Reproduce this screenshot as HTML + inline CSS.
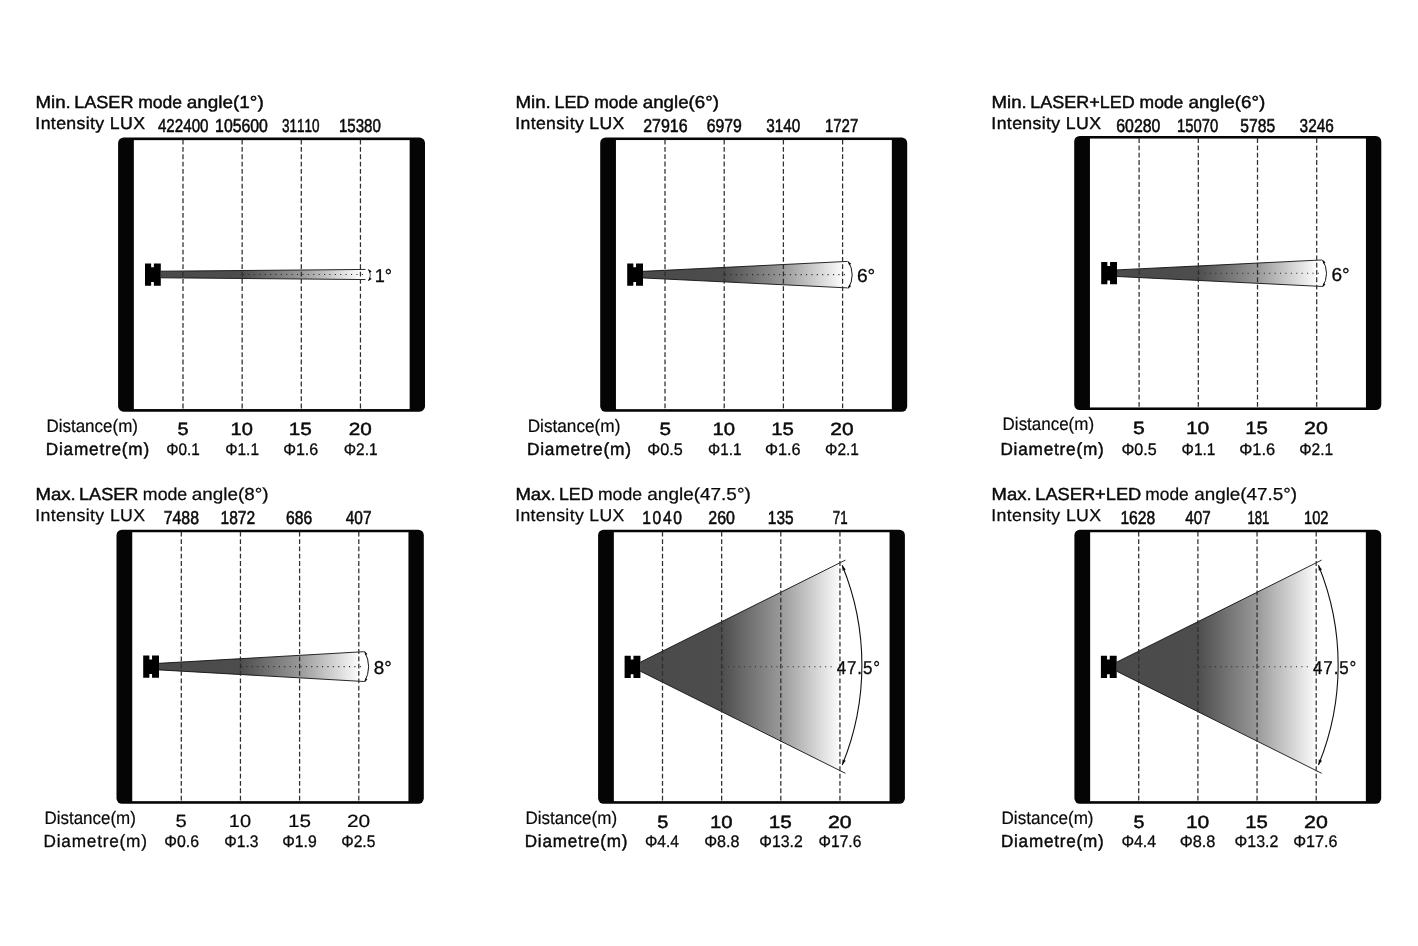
<!DOCTYPE html>
<html><head><meta charset="utf-8"><title>Beam angles</title>
<style>
html,body{margin:0;padding:0;background:#fff;}
body{width:1418px;height:946px;overflow:hidden;}
svg{display:block;will-change:transform;}
text{font-family:"Liberation Sans",sans-serif;font-kerning:none;text-rendering:geometricPrecision;}
</style></head><body>
<svg width="1418" height="946" viewBox="0 0 1418 946">
<rect width="1418" height="946" fill="#fff"/>
<rect x="118.1" y="137.6" width="306.90" height="274.10" rx="5.5" ry="5.5" fill="#050505"/>
<rect x="133.85" y="140.15" width="275.80" height="268.90" fill="#fff"/>
<rect x="600.2" y="137.5" width="307.00" height="274.30" rx="5.5" ry="5.5" fill="#050505"/>
<rect x="615.95" y="140.05" width="275.90" height="269.10" fill="#fff"/>
<rect x="1074.2" y="136.0" width="307.10" height="274.10" rx="5.5" ry="5.5" fill="#050505"/>
<rect x="1089.95" y="138.55" width="276.00" height="268.90" fill="#fff"/>
<rect x="116.5" y="529.7" width="307.30" height="274.10" rx="5.5" ry="5.5" fill="#050505"/>
<rect x="132.25" y="532.25" width="276.20" height="268.90" fill="#fff"/>
<rect x="598.1" y="529.7" width="306.80" height="274.10" rx="5.5" ry="5.5" fill="#050505"/>
<rect x="613.85" y="532.25" width="275.70" height="268.90" fill="#fff"/>
<rect x="1074.4" y="529.7" width="306.80" height="274.10" rx="5.5" ry="5.5" fill="#050505"/>
<rect x="1090.15" y="532.25" width="275.70" height="268.90" fill="#fff"/>
<linearGradient id="g1" gradientUnits="userSpaceOnUse" x1="160.8" y1="0" x2="360.45" y2="0"><stop offset="0" stop-color="#4a4a4a"/><stop offset="0.407" stop-color="#4d4d4d"/><stop offset="0.704" stop-color="#999999"/><stop offset="1" stop-color="#fcfcfc"/></linearGradient>
<polygon points="160.8,271.20 360.45,269.49 360.45,279.51 160.8,277.80" fill="url(#g1)"/>
<path d="M160.8,271.20 L365.5,269.45 M160.8,277.80 L365.5,279.55" stroke="#111" stroke-width="0.9" fill="none"/>
<line x1="243" y1="274.5" x2="366.0" y2="274.5" stroke="#2a2a2a" stroke-width="1.1" stroke-dasharray="1.1 4.3"/>
<path d="M368.3,269.30 A9.41,9.41 0 0 1 368.3,280.90" stroke="#111" stroke-width="0.7" fill="none"/>
<polygon points="368.30,269.30 369.34,273.06 371.70,271.21" fill="#0a0a0a"/>
<polygon points="368.30,280.90 371.70,278.99 369.34,277.14" fill="#0a0a0a"/>
<linearGradient id="g2" gradientUnits="userSpaceOnUse" x1="643.0" y1="0" x2="842.6" y2="0"><stop offset="0" stop-color="#4a4a4a"/><stop offset="0.407" stop-color="#4d4d4d"/><stop offset="0.704" stop-color="#999999"/><stop offset="1" stop-color="#fcfcfc"/></linearGradient>
<polygon points="643.0,271.35 842.6,261.64 842.6,287.66 643.0,277.95" fill="url(#g2)"/>
<path d="M643.0,271.35 L847.6,261.40 M643.0,277.95 L847.6,287.90" stroke="#111" stroke-width="0.9" fill="none"/>
<line x1="725" y1="274.65" x2="845.5" y2="274.65" stroke="#2a2a2a" stroke-width="1.1" stroke-dasharray="1.1 4.3"/>
<path d="M848.2,261.40 A24.78,24.78 0 0 1 848.2,288.40" stroke="#111" stroke-width="1.0" fill="none"/>
<polygon points="848.20,261.40 849.07,265.13 851.25,263.71" fill="#0a0a0a"/>
<polygon points="848.20,288.40 851.25,286.09 849.07,284.67" fill="#0a0a0a"/>
<linearGradient id="g3" gradientUnits="userSpaceOnUse" x1="1117.0" y1="0" x2="1316.7" y2="0"><stop offset="0" stop-color="#4a4a4a"/><stop offset="0.407" stop-color="#4d4d4d"/><stop offset="0.704" stop-color="#999999"/><stop offset="1" stop-color="#fcfcfc"/></linearGradient>
<polygon points="1117.0,269.90 1316.7,260.20 1316.7,286.20 1117.0,276.50" fill="url(#g3)"/>
<path d="M1117.0,269.90 L1321.9,259.95 M1117.0,276.50 L1321.9,286.45" stroke="#111" stroke-width="0.9" fill="none"/>
<line x1="1199" y1="273.2" x2="1319.7" y2="273.2" stroke="#2a2a2a" stroke-width="1.1" stroke-dasharray="1.1 4.3"/>
<path d="M1322.5,259.90 A24.78,24.78 0 0 1 1322.5,286.90" stroke="#111" stroke-width="1.0" fill="none"/>
<polygon points="1322.50,259.90 1323.37,263.63 1325.55,262.21" fill="#0a0a0a"/>
<polygon points="1322.50,286.90 1325.55,284.59 1323.37,283.17" fill="#0a0a0a"/>
<linearGradient id="g4" gradientUnits="userSpaceOnUse" x1="159.0" y1="0" x2="358.8" y2="0"><stop offset="0" stop-color="#4a4a4a"/><stop offset="0.407" stop-color="#4d4d4d"/><stop offset="0.704" stop-color="#999999"/><stop offset="1" stop-color="#fcfcfc"/></linearGradient>
<polygon points="159.0,663.30 358.8,651.99 358.8,681.21 159.0,669.90" fill="url(#g4)"/>
<path d="M159.0,663.30 L363.9,651.70 M159.0,669.90 L363.9,681.50" stroke="#111" stroke-width="0.9" fill="none"/>
<line x1="241" y1="666.6" x2="361.5" y2="666.6" stroke="#2a2a2a" stroke-width="1.1" stroke-dasharray="1.1 4.3"/>
<path d="M364.6,651.40 A32.70,32.70 0 0 1 364.6,682.00" stroke="#111" stroke-width="1.0" fill="none"/>
<polygon points="364.60,651.40 365.14,655.19 367.43,653.97" fill="#0a0a0a"/>
<polygon points="364.60,682.00 367.43,679.43 365.14,678.21" fill="#0a0a0a"/>
<linearGradient id="g5" gradientUnits="userSpaceOnUse" x1="640.3" y1="0" x2="839.95" y2="0"><stop offset="0" stop-color="#4a4a4a"/><stop offset="0.407" stop-color="#4d4d4d"/><stop offset="0.704" stop-color="#999999"/><stop offset="1" stop-color="#fcfcfc"/></linearGradient>
<polygon points="640.3,662.20 839.95,562.81 839.95,770.59 640.3,671.20" fill="url(#g5)"/>
<path d="M640.3,662.20 L845.4,560.10 M640.3,671.20 L845.4,773.30" stroke="#111" stroke-width="0.9" fill="none"/>
<line x1="722.5" y1="666.7" x2="835.0" y2="666.7" stroke="#2a2a2a" stroke-width="1.1" stroke-dasharray="1.1 4.3"/>
<path d="M842.2,565.30 A262.90,262.90 0 0 1 842.2,765.00" stroke="#111" stroke-width="1.1" fill="none"/>
<polygon points="842.20,565.30 842.60,570.76 845.75,569.46" fill="#0a0a0a"/>
<polygon points="842.20,765.00 845.75,760.84 842.60,759.54" fill="#0a0a0a"/>
<linearGradient id="g6" gradientUnits="userSpaceOnUse" x1="1116.55" y1="0" x2="1316.2" y2="0"><stop offset="0" stop-color="#4a4a4a"/><stop offset="0.407" stop-color="#4d4d4d"/><stop offset="0.704" stop-color="#999999"/><stop offset="1" stop-color="#fcfcfc"/></linearGradient>
<polygon points="1116.55,662.20 1316.2,562.81 1316.2,770.59 1116.55,671.20" fill="url(#g6)"/>
<path d="M1116.55,662.20 L1321.65,560.10 M1116.55,671.20 L1321.65,773.30" stroke="#111" stroke-width="0.9" fill="none"/>
<line x1="1198.75" y1="666.7" x2="1311.25" y2="666.7" stroke="#2a2a2a" stroke-width="1.1" stroke-dasharray="1.1 4.3"/>
<path d="M1318.45,565.30 A262.90,262.90 0 0 1 1318.45,765.00" stroke="#111" stroke-width="1.1" fill="none"/>
<polygon points="1318.45,565.30 1318.85,570.76 1322.00,569.46" fill="#0a0a0a"/>
<polygon points="1318.45,765.00 1322.00,760.84 1318.85,759.54" fill="#0a0a0a"/>
<line x1="183.0" y1="139.70" x2="183.0" y2="409.70" stroke="#2e2e2e" stroke-width="1.25" stroke-dasharray="4.8 2.53"/>
<line x1="242.15" y1="139.70" x2="242.15" y2="409.70" stroke="#2e2e2e" stroke-width="1.25" stroke-dasharray="4.8 2.53"/>
<line x1="301.3" y1="139.70" x2="301.3" y2="409.70" stroke="#2e2e2e" stroke-width="1.25" stroke-dasharray="4.8 2.53"/>
<line x1="360.45" y1="139.70" x2="360.45" y2="409.70" stroke="#2e2e2e" stroke-width="1.25" stroke-dasharray="4.8 2.53"/>
<line x1="665.0" y1="139.60" x2="665.0" y2="409.80" stroke="#2e2e2e" stroke-width="1.25" stroke-dasharray="4.8 2.53"/>
<line x1="724.2" y1="139.60" x2="724.2" y2="409.80" stroke="#2e2e2e" stroke-width="1.25" stroke-dasharray="4.8 2.53"/>
<line x1="783.4" y1="139.60" x2="783.4" y2="409.80" stroke="#2e2e2e" stroke-width="1.25" stroke-dasharray="4.8 2.53"/>
<line x1="842.6" y1="139.60" x2="842.6" y2="409.80" stroke="#2e2e2e" stroke-width="1.25" stroke-dasharray="4.8 2.53"/>
<line x1="1139.1" y1="138.10" x2="1139.1" y2="408.10" stroke="#2e2e2e" stroke-width="1.25" stroke-dasharray="4.8 2.53"/>
<line x1="1198.3" y1="138.10" x2="1198.3" y2="408.10" stroke="#2e2e2e" stroke-width="1.25" stroke-dasharray="4.8 2.53"/>
<line x1="1257.5" y1="138.10" x2="1257.5" y2="408.10" stroke="#2e2e2e" stroke-width="1.25" stroke-dasharray="4.8 2.53"/>
<line x1="1316.7" y1="138.10" x2="1316.7" y2="408.10" stroke="#2e2e2e" stroke-width="1.25" stroke-dasharray="4.8 2.53"/>
<line x1="181.3" y1="531.80" x2="181.3" y2="801.80" stroke="#2e2e2e" stroke-width="1.25" stroke-dasharray="4.8 2.53"/>
<line x1="240.45" y1="531.80" x2="240.45" y2="801.80" stroke="#2e2e2e" stroke-width="1.25" stroke-dasharray="4.8 2.53"/>
<line x1="299.6" y1="531.80" x2="299.6" y2="801.80" stroke="#2e2e2e" stroke-width="1.25" stroke-dasharray="4.8 2.53"/>
<line x1="358.8" y1="531.80" x2="358.8" y2="801.80" stroke="#2e2e2e" stroke-width="1.25" stroke-dasharray="4.8 2.53"/>
<line x1="662.5" y1="531.80" x2="662.5" y2="801.80" stroke="#2e2e2e" stroke-width="1.25" stroke-dasharray="4.8 2.53"/>
<line x1="721.65" y1="531.80" x2="721.65" y2="801.80" stroke="#2e2e2e" stroke-width="1.25" stroke-dasharray="4.8 2.53"/>
<line x1="780.8" y1="531.80" x2="780.8" y2="801.80" stroke="#2e2e2e" stroke-width="1.25" stroke-dasharray="4.8 2.53"/>
<line x1="839.95" y1="531.80" x2="839.95" y2="801.80" stroke="#2e2e2e" stroke-width="1.25" stroke-dasharray="4.8 2.53"/>
<line x1="1138.7" y1="531.80" x2="1138.7" y2="801.80" stroke="#2e2e2e" stroke-width="1.25" stroke-dasharray="4.8 2.53"/>
<line x1="1197.9" y1="531.80" x2="1197.9" y2="801.80" stroke="#2e2e2e" stroke-width="1.25" stroke-dasharray="4.8 2.53"/>
<line x1="1257.05" y1="531.80" x2="1257.05" y2="801.80" stroke="#2e2e2e" stroke-width="1.25" stroke-dasharray="4.8 2.53"/>
<line x1="1316.2" y1="531.80" x2="1316.2" y2="801.80" stroke="#2e2e2e" stroke-width="1.25" stroke-dasharray="4.8 2.53"/>
<path d="M145.00,263.50 H151.15 V267.30 H153.85 V263.50 H160.80 V285.70 H153.85 V281.90 H151.15 V285.70 H145.00 Z" fill="#000"/>
<path d="M627.20,263.55 H633.35 V267.35 H636.05 V263.55 H643.00 V285.75 H636.05 V281.95 H633.35 V285.75 H627.20 Z" fill="#000"/>
<path d="M1101.20,262.10 H1107.35 V265.90 H1110.05 V262.10 H1117.00 V284.30 H1110.05 V280.50 H1107.35 V284.30 H1101.20 Z" fill="#000"/>
<path d="M143.20,655.60 H149.35 V659.40 H152.05 V655.60 H159.00 V677.80 H152.05 V674.00 H149.35 V677.80 H143.20 Z" fill="#000"/>
<path d="M624.60,655.80 H630.75 V659.60 H633.45 V655.80 H640.40 V678.00 H633.45 V674.20 H630.75 V678.00 H624.60 Z" fill="#000"/>
<path d="M1100.90,655.80 H1107.05 V659.60 H1109.75 V655.80 H1116.70 V678.00 H1109.75 V674.20 H1107.05 V678.00 H1100.90 Z" fill="#000"/>
<text transform="translate(35.49,108.00) scale(1.0735,1)" font-size="17.4" fill="#0a0a0a" stroke="#0a0a0a" stroke-width="0.45" vector-effect="non-scaling-stroke" stroke-linejoin="round">Min.</text>
<text transform="translate(74.14,108.00) scale(1.0406,1)" font-size="17.4" fill="#0a0a0a" stroke="#0a0a0a" stroke-width="0.45" vector-effect="non-scaling-stroke" stroke-linejoin="round">LASER</text>
<text transform="translate(138.26,108.00) scale(1.0061,1)" font-size="17.4" fill="#0a0a0a" stroke="#0a0a0a" stroke-width="0.45" vector-effect="non-scaling-stroke" stroke-linejoin="round">mode</text>
<text transform="translate(186.82,108.00) scale(1.0866,1)" font-size="17.4" fill="#0a0a0a" stroke="#0a0a0a" stroke-width="0.45" vector-effect="non-scaling-stroke" stroke-linejoin="round">angle(1°)</text>
<text transform="translate(515.39,108.00) scale(1.0769,1)" font-size="17.4" fill="#0a0a0a" stroke="#0a0a0a" stroke-width="0.45" vector-effect="non-scaling-stroke" stroke-linejoin="round">Min.</text>
<text transform="translate(554.45,108.00) scale(1.0304,1)" font-size="17.4" fill="#0a0a0a" stroke="#0a0a0a" stroke-width="0.45" vector-effect="non-scaling-stroke" stroke-linejoin="round">LED</text>
<text transform="translate(594.17,108.00) scale(1.0037,1)" font-size="17.4" fill="#0a0a0a" stroke="#0a0a0a" stroke-width="0.45" vector-effect="non-scaling-stroke" stroke-linejoin="round">mode</text>
<text transform="translate(642.83,108.00) scale(1.0750,1)" font-size="17.4" fill="#0a0a0a" stroke="#0a0a0a" stroke-width="0.45" vector-effect="non-scaling-stroke" stroke-linejoin="round">angle(6°)</text>
<text transform="translate(991.50,108.00) scale(1.0702,1)" font-size="17.4" fill="#0a0a0a" stroke="#0a0a0a" stroke-width="0.45" vector-effect="non-scaling-stroke" stroke-linejoin="round">Min.</text>
<text transform="translate(1030.25,108.00) scale(1.0338,1)" font-size="17.4" fill="#0a0a0a" stroke="#0a0a0a" stroke-width="0.45" vector-effect="non-scaling-stroke" stroke-linejoin="round">LASER+LED</text>
<text transform="translate(1139.56,108.00) scale(1.0061,1)" font-size="17.4" fill="#0a0a0a" stroke="#0a0a0a" stroke-width="0.45" vector-effect="non-scaling-stroke" stroke-linejoin="round">mode</text>
<text transform="translate(1188.52,108.00) scale(1.0851,1)" font-size="17.4" fill="#0a0a0a" stroke="#0a0a0a" stroke-width="0.45" vector-effect="non-scaling-stroke" stroke-linejoin="round">angle(6°)</text>
<text transform="translate(35.50,500.00) scale(1.0680,1)" font-size="17.4" fill="#0a0a0a" stroke="#0a0a0a" stroke-width="0.45" vector-effect="non-scaling-stroke" stroke-linejoin="round">Max.</text>
<text transform="translate(79.04,500.00) scale(1.0406,1)" font-size="17.4" fill="#0a0a0a" stroke="#0a0a0a" stroke-width="0.45" vector-effect="non-scaling-stroke" stroke-linejoin="round">LASER</text>
<text transform="translate(142.85,500.00) scale(1.0205,1)" font-size="17.4" fill="#0a0a0a" stroke="#0a0a0a" stroke-width="0.25" vector-effect="non-scaling-stroke" stroke-linejoin="round">mode</text>
<text transform="translate(191.82,500.00) scale(1.0837,1)" font-size="17.4" fill="#0a0a0a" stroke="#0a0a0a" stroke-width="0.25" vector-effect="non-scaling-stroke" stroke-linejoin="round">angle(8°)</text>
<text transform="translate(515.40,500.00) scale(1.0652,1)" font-size="17.4" fill="#0a0a0a" stroke="#0a0a0a" stroke-width="0.45" vector-effect="non-scaling-stroke" stroke-linejoin="round">Max.</text>
<text transform="translate(558.97,500.00) scale(1.0209,1)" font-size="17.4" fill="#0a0a0a" stroke="#0a0a0a" stroke-width="0.45" vector-effect="non-scaling-stroke" stroke-linejoin="round">LED</text>
<text transform="translate(597.96,500.00) scale(1.0109,1)" font-size="17.4" fill="#0a0a0a" stroke="#0a0a0a" stroke-width="0.25" vector-effect="non-scaling-stroke" stroke-linejoin="round">mode</text>
<text transform="translate(647.32,500.00) scale(1.0900,1)" font-size="17.4" fill="#0a0a0a" stroke="#0a0a0a" stroke-width="0.25" vector-effect="non-scaling-stroke" stroke-linejoin="round">angle(47.5°)</text>
<text transform="translate(991.61,500.00) scale(1.0594,1)" font-size="17.4" fill="#0a0a0a" stroke="#0a0a0a" stroke-width="0.45" vector-effect="non-scaling-stroke" stroke-linejoin="round">Max.</text>
<text transform="translate(1035.23,500.00) scale(1.0500,1)" font-size="17.4" fill="#0a0a0a" stroke="#0a0a0a" stroke-width="0.45" vector-effect="non-scaling-stroke" stroke-linejoin="round">LASER+LED</text>
<text transform="translate(1145.37,500.00) scale(0.9965,1)" font-size="17.4" fill="#0a0a0a" stroke="#0a0a0a" stroke-width="0.25" vector-effect="non-scaling-stroke" stroke-linejoin="round">mode</text>
<text transform="translate(1194.22,500.00) scale(1.0835,1)" font-size="17.4" fill="#0a0a0a" stroke="#0a0a0a" stroke-width="0.25" vector-effect="non-scaling-stroke" stroke-linejoin="round">angle(47.5°)</text>
<text transform="translate(35.37,129.00) scale(1.0360,1)" font-size="17.1" fill="#0a0a0a" stroke="#0a0a0a" stroke-width="0.4" vector-effect="non-scaling-stroke" stroke-linejoin="round" letter-spacing="0.35">Intensity LUX</text>
<text transform="translate(515.28,129.00) scale(1.0292,1)" font-size="17.1" fill="#0a0a0a" stroke="#0a0a0a" stroke-width="0.4" vector-effect="non-scaling-stroke" stroke-linejoin="round" letter-spacing="0.35">Intensity LUX</text>
<text transform="translate(991.37,129.00) scale(1.0360,1)" font-size="17.1" fill="#0a0a0a" stroke="#0a0a0a" stroke-width="0.4" vector-effect="non-scaling-stroke" stroke-linejoin="round" letter-spacing="0.35">Intensity LUX</text>
<text transform="translate(35.29,521.00) scale(1.0374,1)" font-size="17.1" fill="#0a0a0a" stroke="#0a0a0a" stroke-width="0.25" vector-effect="non-scaling-stroke" stroke-linejoin="round" letter-spacing="0.35">Intensity LUX</text>
<text transform="translate(515.20,521.00) scale(1.0307,1)" font-size="17.1" fill="#0a0a0a" stroke="#0a0a0a" stroke-width="0.25" vector-effect="non-scaling-stroke" stroke-linejoin="round" letter-spacing="0.35">Intensity LUX</text>
<text transform="translate(991.29,521.00) scale(1.0374,1)" font-size="17.1" fill="#0a0a0a" stroke="#0a0a0a" stroke-width="0.25" vector-effect="non-scaling-stroke" stroke-linejoin="round" letter-spacing="0.35">Intensity LUX</text>
<text transform="translate(157.93,132.00) scale(0.8107,1)" font-size="18.7" fill="#0a0a0a" stroke="#0a0a0a" stroke-width="0.55" vector-effect="non-scaling-stroke" stroke-linejoin="round">422400</text>
<text transform="translate(215.07,132.00) scale(0.8474,1)" font-size="18.7" fill="#0a0a0a" stroke="#0a0a0a" stroke-width="0.55" vector-effect="non-scaling-stroke" stroke-linejoin="round">105600</text>
<text transform="translate(282.06,132.00) scale(0.7229,1)" font-size="18.7" fill="#0a0a0a" stroke="#0a0a0a" stroke-width="0.55" vector-effect="non-scaling-stroke" stroke-linejoin="round">31110</text>
<text transform="translate(338.92,132.00) scale(0.8075,1)" font-size="18.7" fill="#0a0a0a" stroke="#0a0a0a" stroke-width="0.55" vector-effect="non-scaling-stroke" stroke-linejoin="round">15380</text>
<text transform="translate(643.17,132.00) scale(0.8549,1)" font-size="18.7" fill="#0a0a0a" stroke="#0a0a0a" stroke-width="0.55" vector-effect="non-scaling-stroke" stroke-linejoin="round">27916</text>
<text transform="translate(706.77,132.00) scale(0.8437,1)" font-size="18.7" fill="#0a0a0a" stroke="#0a0a0a" stroke-width="0.55" vector-effect="non-scaling-stroke" stroke-linejoin="round">6979</text>
<text transform="translate(766.29,132.00) scale(0.8180,1)" font-size="18.7" fill="#0a0a0a" stroke="#0a0a0a" stroke-width="0.55" vector-effect="non-scaling-stroke" stroke-linejoin="round">3140</text>
<text transform="translate(824.93,132.00) scale(0.8016,1)" font-size="18.7" fill="#0a0a0a" stroke="#0a0a0a" stroke-width="0.55" vector-effect="non-scaling-stroke" stroke-linejoin="round">1727</text>
<text transform="translate(1116.27,132.00) scale(0.8496,1)" font-size="18.7" fill="#0a0a0a" stroke="#0a0a0a" stroke-width="0.55" vector-effect="non-scaling-stroke" stroke-linejoin="round">60280</text>
<text transform="translate(1177.05,132.00) scale(0.7914,1)" font-size="18.7" fill="#0a0a0a" stroke="#0a0a0a" stroke-width="0.55" vector-effect="non-scaling-stroke" stroke-linejoin="round">15070</text>
<text transform="translate(1240.35,132.00) scale(0.8349,1)" font-size="18.7" fill="#0a0a0a" stroke="#0a0a0a" stroke-width="0.55" vector-effect="non-scaling-stroke" stroke-linejoin="round">5785</text>
<text transform="translate(1299.59,132.00) scale(0.8224,1)" font-size="18.7" fill="#0a0a0a" stroke="#0a0a0a" stroke-width="0.55" vector-effect="non-scaling-stroke" stroke-linejoin="round">3246</text>
<text transform="translate(163.76,524.00) scale(0.8474,1)" font-size="18.7" fill="#0a0a0a" stroke="#0a0a0a" stroke-width="0.55" vector-effect="non-scaling-stroke" stroke-linejoin="round">7488</text>
<text transform="translate(220.49,524.00) scale(0.8322,1)" font-size="18.7" fill="#0a0a0a" stroke="#0a0a0a" stroke-width="0.55" vector-effect="non-scaling-stroke" stroke-linejoin="round">1872</text>
<text transform="translate(286.08,524.00) scale(0.8376,1)" font-size="18.7" fill="#0a0a0a" stroke="#0a0a0a" stroke-width="0.55" vector-effect="non-scaling-stroke" stroke-linejoin="round">686</text>
<text transform="translate(345.72,524.00) scale(0.8263,1)" font-size="18.7" fill="#0a0a0a" stroke="#0a0a0a" stroke-width="0.55" vector-effect="non-scaling-stroke" stroke-linejoin="round">407</text>
<text transform="translate(642.19,524.00) scale(0.8351,1)" font-size="18.7" fill="#0a0a0a" stroke="#0a0a0a" stroke-width="0.55" vector-effect="non-scaling-stroke" stroke-linejoin="round" letter-spacing="2.0">1040</text>
<text transform="translate(708.27,524.00) scale(0.8551,1)" font-size="18.7" fill="#0a0a0a" stroke="#0a0a0a" stroke-width="0.55" vector-effect="non-scaling-stroke" stroke-linejoin="round">260</text>
<text transform="translate(767.80,524.00) scale(0.8261,1)" font-size="18.7" fill="#0a0a0a" stroke="#0a0a0a" stroke-width="0.55" vector-effect="non-scaling-stroke" stroke-linejoin="round">135</text>
<text transform="translate(832.79,524.00) scale(0.7106,1)" font-size="18.7" fill="#0a0a0a" stroke="#0a0a0a" stroke-width="0.55" vector-effect="non-scaling-stroke" stroke-linejoin="round">71</text>
<text transform="translate(1120.38,524.00) scale(0.8371,1)" font-size="18.7" fill="#0a0a0a" stroke="#0a0a0a" stroke-width="0.55" vector-effect="non-scaling-stroke" stroke-linejoin="round">1628</text>
<text transform="translate(1185.22,524.00) scale(0.8163,1)" font-size="18.7" fill="#0a0a0a" stroke="#0a0a0a" stroke-width="0.55" vector-effect="non-scaling-stroke" stroke-linejoin="round">407</text>
<text transform="translate(1247.38,524.00) scale(0.6981,1)" font-size="18.7" fill="#0a0a0a" stroke="#0a0a0a" stroke-width="0.55" vector-effect="non-scaling-stroke" stroke-linejoin="round">181</text>
<text transform="translate(1304.06,524.00) scale(0.7820,1)" font-size="18.7" fill="#0a0a0a" stroke="#0a0a0a" stroke-width="0.55" vector-effect="non-scaling-stroke" stroke-linejoin="round">102</text>
<text transform="translate(46.41,432.10) scale(0.9436,1)" font-size="18.0" fill="#0a0a0a" stroke="#0a0a0a" stroke-width="0.2" vector-effect="non-scaling-stroke" stroke-linejoin="round">Distance(m)</text>
<text transform="translate(527.69,432.00) scale(0.9553,1)" font-size="18.0" fill="#0a0a0a" stroke="#0a0a0a" stroke-width="0.2" vector-effect="non-scaling-stroke" stroke-linejoin="round">Distance(m)</text>
<text transform="translate(1002.61,429.80) scale(0.9426,1)" font-size="18.0" fill="#0a0a0a" stroke="#0a0a0a" stroke-width="0.2" vector-effect="non-scaling-stroke" stroke-linejoin="round">Distance(m)</text>
<text transform="translate(44.51,824.00) scale(0.9415,1)" font-size="18.0" fill="#0a0a0a" stroke="#0a0a0a" stroke-width="0.2" vector-effect="non-scaling-stroke" stroke-linejoin="round">Distance(m)</text>
<text transform="translate(525.41,824.00) scale(0.9447,1)" font-size="18.0" fill="#0a0a0a" stroke="#0a0a0a" stroke-width="0.2" vector-effect="non-scaling-stroke" stroke-linejoin="round">Distance(m)</text>
<text transform="translate(1001.50,824.00) scale(0.9489,1)" font-size="18.0" fill="#0a0a0a" stroke="#0a0a0a" stroke-width="0.2" vector-effect="non-scaling-stroke" stroke-linejoin="round">Distance(m)</text>
<text transform="translate(45.81,454.90) scale(0.9768,1)" font-size="17.6" fill="#0a0a0a" stroke="#0a0a0a" stroke-width="0.45" vector-effect="non-scaling-stroke" stroke-linejoin="round" letter-spacing="0.8">Diametre(m)</text>
<text transform="translate(526.90,455.40) scale(0.9855,1)" font-size="17.6" fill="#0a0a0a" stroke="#0a0a0a" stroke-width="0.45" vector-effect="non-scaling-stroke" stroke-linejoin="round" letter-spacing="0.8">Diametre(m)</text>
<text transform="translate(1000.41,454.80) scale(0.9768,1)" font-size="17.6" fill="#0a0a0a" stroke="#0a0a0a" stroke-width="0.45" vector-effect="non-scaling-stroke" stroke-linejoin="round" letter-spacing="0.8">Diametre(m)</text>
<text transform="translate(43.44,846.70) scale(0.9792,1)" font-size="17.6" fill="#0a0a0a" stroke="#0a0a0a" stroke-width="0.3" vector-effect="non-scaling-stroke" stroke-linejoin="round" letter-spacing="0.8">Diametre(m)</text>
<text transform="translate(524.72,846.70) scale(0.9710,1)" font-size="17.6" fill="#0a0a0a" stroke="#0a0a0a" stroke-width="0.45" vector-effect="non-scaling-stroke" stroke-linejoin="round" letter-spacing="0.8">Diametre(m)</text>
<text transform="translate(1000.92,846.70) scale(0.9720,1)" font-size="17.6" fill="#0a0a0a" stroke="#0a0a0a" stroke-width="0.45" vector-effect="non-scaling-stroke" stroke-linejoin="round" letter-spacing="0.8">Diametre(m)</text>
<text transform="translate(177.43,435.10) scale(1.1261,1)" font-size="17.7" fill="#0a0a0a" stroke="#0a0a0a" stroke-width="0.45" vector-effect="non-scaling-stroke" stroke-linejoin="round">5</text>
<text transform="translate(230.49,435.10) scale(1.1361,1)" font-size="17.7" fill="#0a0a0a" stroke="#0a0a0a" stroke-width="0.45" vector-effect="non-scaling-stroke" stroke-linejoin="round">10</text>
<text transform="translate(288.74,435.10) scale(1.1735,1)" font-size="17.7" fill="#0a0a0a" stroke="#0a0a0a" stroke-width="0.45" vector-effect="non-scaling-stroke" stroke-linejoin="round">15</text>
<text transform="translate(348.78,435.10) scale(1.1736,1)" font-size="17.7" fill="#0a0a0a" stroke="#0a0a0a" stroke-width="0.45" vector-effect="non-scaling-stroke" stroke-linejoin="round">20</text>
<text transform="translate(659.39,434.70) scale(1.1737,1)" font-size="17.7" fill="#0a0a0a" stroke="#0a0a0a" stroke-width="0.45" vector-effect="non-scaling-stroke" stroke-linejoin="round">5</text>
<text transform="translate(712.58,434.70) scale(1.1474,1)" font-size="17.7" fill="#0a0a0a" stroke="#0a0a0a" stroke-width="0.45" vector-effect="non-scaling-stroke" stroke-linejoin="round">10</text>
<text transform="translate(771.17,434.70) scale(1.1508,1)" font-size="17.7" fill="#0a0a0a" stroke="#0a0a0a" stroke-width="0.45" vector-effect="non-scaling-stroke" stroke-linejoin="round">15</text>
<text transform="translate(830.37,434.70) scale(1.1847,1)" font-size="17.7" fill="#0a0a0a" stroke="#0a0a0a" stroke-width="0.45" vector-effect="non-scaling-stroke" stroke-linejoin="round">20</text>
<text transform="translate(1133.08,433.80) scale(1.1976,1)" font-size="17.7" fill="#0a0a0a" stroke="#0a0a0a" stroke-width="0.45" vector-effect="non-scaling-stroke" stroke-linejoin="round">5</text>
<text transform="translate(1185.92,433.80) scale(1.1871,1)" font-size="17.7" fill="#0a0a0a" stroke="#0a0a0a" stroke-width="0.45" vector-effect="non-scaling-stroke" stroke-linejoin="round">10</text>
<text transform="translate(1245.27,433.80) scale(1.1508,1)" font-size="17.7" fill="#0a0a0a" stroke="#0a0a0a" stroke-width="0.45" vector-effect="non-scaling-stroke" stroke-linejoin="round">15</text>
<text transform="translate(1304.05,433.80) scale(1.2068,1)" font-size="17.7" fill="#0a0a0a" stroke="#0a0a0a" stroke-width="0.45" vector-effect="non-scaling-stroke" stroke-linejoin="round">20</text>
<text transform="translate(175.39,827.00) scale(1.1440,1)" font-size="17.7" fill="#0a0a0a" stroke="#0a0a0a" stroke-width="0.2" vector-effect="non-scaling-stroke" stroke-linejoin="round">5</text>
<text transform="translate(228.87,827.00) scale(1.1333,1)" font-size="17.7" fill="#0a0a0a" stroke="#0a0a0a" stroke-width="0.2" vector-effect="non-scaling-stroke" stroke-linejoin="round">10</text>
<text transform="translate(288.02,827.00) scale(1.1707,1)" font-size="17.7" fill="#0a0a0a" stroke="#0a0a0a" stroke-width="0.2" vector-effect="non-scaling-stroke" stroke-linejoin="round">15</text>
<text transform="translate(346.95,827.00) scale(1.1819,1)" font-size="17.7" fill="#0a0a0a" stroke="#0a0a0a" stroke-width="0.2" vector-effect="non-scaling-stroke" stroke-linejoin="round">20</text>
<text transform="translate(657.33,827.70) scale(1.1261,1)" font-size="17.7" fill="#0a0a0a" stroke="#0a0a0a" stroke-width="0.45" vector-effect="non-scaling-stroke" stroke-linejoin="round">5</text>
<text transform="translate(709.88,827.70) scale(1.1474,1)" font-size="17.7" fill="#0a0a0a" stroke="#0a0a0a" stroke-width="0.45" vector-effect="non-scaling-stroke" stroke-linejoin="round">10</text>
<text transform="translate(768.74,827.70) scale(1.1735,1)" font-size="17.7" fill="#0a0a0a" stroke="#0a0a0a" stroke-width="0.45" vector-effect="non-scaling-stroke" stroke-linejoin="round">15</text>
<text transform="translate(827.96,827.70) scale(1.2012,1)" font-size="17.7" fill="#0a0a0a" stroke="#0a0a0a" stroke-width="0.45" vector-effect="non-scaling-stroke" stroke-linejoin="round">20</text>
<text transform="translate(1133.44,827.70) scale(1.1142,1)" font-size="17.7" fill="#0a0a0a" stroke="#0a0a0a" stroke-width="0.45" vector-effect="non-scaling-stroke" stroke-linejoin="round">5</text>
<text transform="translate(1185.92,827.70) scale(1.1871,1)" font-size="17.7" fill="#0a0a0a" stroke="#0a0a0a" stroke-width="0.45" vector-effect="non-scaling-stroke" stroke-linejoin="round">10</text>
<text transform="translate(1245.27,827.70) scale(1.1508,1)" font-size="17.7" fill="#0a0a0a" stroke="#0a0a0a" stroke-width="0.45" vector-effect="non-scaling-stroke" stroke-linejoin="round">15</text>
<text transform="translate(1304.05,827.70) scale(1.2068,1)" font-size="17.7" fill="#0a0a0a" stroke="#0a0a0a" stroke-width="0.45" vector-effect="non-scaling-stroke" stroke-linejoin="round">20</text>
<text transform="translate(166.27,454.70) scale(0.9175,1)" font-size="16.7" fill="#0a0a0a" stroke="#0a0a0a" stroke-width="0.3" vector-effect="non-scaling-stroke" stroke-linejoin="round">Φ0.1</text>
<text transform="translate(225.17,454.70) scale(0.9261,1)" font-size="16.7" fill="#0a0a0a" stroke="#0a0a0a" stroke-width="0.3" vector-effect="non-scaling-stroke" stroke-linejoin="round">Φ1.1</text>
<text transform="translate(283.13,454.70) scale(0.9612,1)" font-size="16.7" fill="#0a0a0a" stroke="#0a0a0a" stroke-width="0.3" vector-effect="non-scaling-stroke" stroke-linejoin="round">Φ1.6</text>
<text transform="translate(343.77,454.70) scale(0.9261,1)" font-size="16.7" fill="#0a0a0a" stroke="#0a0a0a" stroke-width="0.3" vector-effect="non-scaling-stroke" stroke-linejoin="round">Φ2.1</text>
<text transform="translate(647.33,455.40) scale(0.9689,1)" font-size="16.7" fill="#0a0a0a" stroke="#0a0a0a" stroke-width="0.3" vector-effect="non-scaling-stroke" stroke-linejoin="round">Φ0.5</text>
<text transform="translate(708.08,455.40) scale(0.9117,1)" font-size="16.7" fill="#0a0a0a" stroke="#0a0a0a" stroke-width="0.3" vector-effect="non-scaling-stroke" stroke-linejoin="round">Φ1.1</text>
<text transform="translate(764.92,455.40) scale(0.9756,1)" font-size="16.7" fill="#0a0a0a" stroke="#0a0a0a" stroke-width="0.3" vector-effect="non-scaling-stroke" stroke-linejoin="round">Φ1.6</text>
<text transform="translate(825.06,455.40) scale(0.9290,1)" font-size="16.7" fill="#0a0a0a" stroke="#0a0a0a" stroke-width="0.3" vector-effect="non-scaling-stroke" stroke-linejoin="round">Φ2.1</text>
<text transform="translate(1121.43,454.80) scale(0.9661,1)" font-size="16.7" fill="#0a0a0a" stroke="#0a0a0a" stroke-width="0.3" vector-effect="non-scaling-stroke" stroke-linejoin="round">Φ0.5</text>
<text transform="translate(1181.56,454.80) scale(0.9290,1)" font-size="16.7" fill="#0a0a0a" stroke="#0a0a0a" stroke-width="0.3" vector-effect="non-scaling-stroke" stroke-linejoin="round">Φ1.1</text>
<text transform="translate(1239.21,454.80) scale(0.9870,1)" font-size="16.7" fill="#0a0a0a" stroke="#0a0a0a" stroke-width="0.3" vector-effect="non-scaling-stroke" stroke-linejoin="round">Φ1.6</text>
<text transform="translate(1299.16,454.80) scale(0.9290,1)" font-size="16.7" fill="#0a0a0a" stroke="#0a0a0a" stroke-width="0.3" vector-effect="non-scaling-stroke" stroke-linejoin="round">Φ2.1</text>
<text transform="translate(164.34,847.40) scale(0.9526,1)" font-size="16.7" fill="#0a0a0a" stroke="#0a0a0a" stroke-width="0.3" vector-effect="non-scaling-stroke" stroke-linejoin="round">Φ0.6</text>
<text transform="translate(224.26,847.40) scale(0.9354,1)" font-size="16.7" fill="#0a0a0a" stroke="#0a0a0a" stroke-width="0.3" vector-effect="non-scaling-stroke" stroke-linejoin="round">Φ1.3</text>
<text transform="translate(282.25,847.40) scale(0.9456,1)" font-size="16.7" fill="#0a0a0a" stroke="#0a0a0a" stroke-width="0.3" vector-effect="non-scaling-stroke" stroke-linejoin="round">Φ1.9</text>
<text transform="translate(341.26,847.40) scale(0.9345,1)" font-size="16.7" fill="#0a0a0a" stroke="#0a0a0a" stroke-width="0.3" vector-effect="non-scaling-stroke" stroke-linejoin="round">Φ2.5</text>
<text transform="translate(644.96,847.40) scale(0.9289,1)" font-size="16.7" fill="#0a0a0a" stroke="#0a0a0a" stroke-width="0.3" vector-effect="non-scaling-stroke" stroke-linejoin="round">Φ4.4</text>
<text transform="translate(704.23,847.40) scale(0.9667,1)" font-size="16.7" fill="#0a0a0a" stroke="#0a0a0a" stroke-width="0.3" vector-effect="non-scaling-stroke" stroke-linejoin="round">Φ8.8</text>
<text transform="translate(759.24,847.40) scale(0.9493,1)" font-size="16.7" fill="#0a0a0a" stroke="#0a0a0a" stroke-width="0.3" vector-effect="non-scaling-stroke" stroke-linejoin="round">Φ13.2</text>
<text transform="translate(818.56,847.40) scale(0.9334,1)" font-size="16.7" fill="#0a0a0a" stroke="#0a0a0a" stroke-width="0.3" vector-effect="non-scaling-stroke" stroke-linejoin="round">Φ17.6</text>
<text transform="translate(1121.45,847.40) scale(0.9460,1)" font-size="16.7" fill="#0a0a0a" stroke="#0a0a0a" stroke-width="0.3" vector-effect="non-scaling-stroke" stroke-linejoin="round">Φ4.4</text>
<text transform="translate(1179.72,847.40) scale(0.9782,1)" font-size="16.7" fill="#0a0a0a" stroke="#0a0a0a" stroke-width="0.3" vector-effect="non-scaling-stroke" stroke-linejoin="round">Φ8.8</text>
<text transform="translate(1234.54,847.40) scale(0.9561,1)" font-size="16.7" fill="#0a0a0a" stroke="#0a0a0a" stroke-width="0.3" vector-effect="non-scaling-stroke" stroke-linejoin="round">Φ13.2</text>
<text transform="translate(1293.23,847.40) scale(0.9651,1)" font-size="16.7" fill="#0a0a0a" stroke="#0a0a0a" stroke-width="0.3" vector-effect="non-scaling-stroke" stroke-linejoin="round">Φ17.6</text>
<text transform="translate(374.67,281.90) scale(0.9771,1)" font-size="18.6" fill="#0a0a0a" stroke="#0a0a0a" stroke-width="0.3" vector-effect="non-scaling-stroke" stroke-linejoin="round">1°</text>
<text transform="translate(856.88,282.10) scale(1.0305,1)" font-size="18.6" fill="#0a0a0a" stroke="#0a0a0a" stroke-width="0.3" vector-effect="non-scaling-stroke" stroke-linejoin="round">6°</text>
<text transform="translate(1331.38,280.70) scale(1.0241,1)" font-size="18.6" fill="#0a0a0a" stroke="#0a0a0a" stroke-width="0.3" vector-effect="non-scaling-stroke" stroke-linejoin="round">6°</text>
<text transform="translate(373.63,674.00) scale(1.0153,1)" font-size="18.6" fill="#0a0a0a" stroke="#0a0a0a" stroke-width="0.3" vector-effect="non-scaling-stroke" stroke-linejoin="round">8°</text>
<text transform="translate(836.66,673.90) scale(0.9112,1)" font-size="18.6" fill="#0a0a0a" stroke="#0a0a0a" stroke-width="0.3" vector-effect="non-scaling-stroke" stroke-linejoin="round" letter-spacing="1.0">47.5°</text>
<text transform="translate(1312.96,673.90) scale(0.9112,1)" font-size="18.6" fill="#0a0a0a" stroke="#0a0a0a" stroke-width="0.3" vector-effect="non-scaling-stroke" stroke-linejoin="round" letter-spacing="1.0">47.5°</text>
</svg>
</body></html>
